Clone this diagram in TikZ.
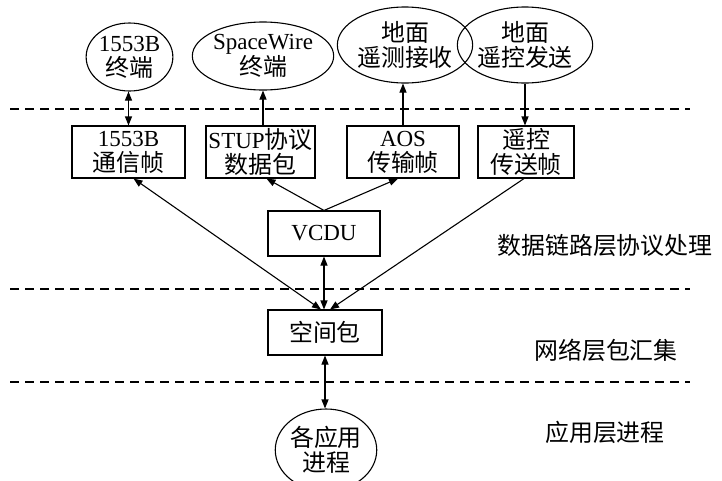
\documentclass[tikz,border=0pt]{standalone}
\usepackage{fontspec}
\setmainfont{Liberation Serif}
\newfontfamily\cjk[Scale=1.04]{Noto Sans CJK SC}
\usetikzlibrary{shapes.geometric,arrows.meta}
\tikzset{
  every node/.style={font=\fontsize{23}{25}\selectfont},
  stepbox/.style={draw, line width=1.1pt, inner sep=0pt, align=center},
  ell/.style={draw, ellipse, line width=1.1pt, inner sep=0pt, align=center},
  conn/.style={line width=1.1pt},
  tip/.style={-{Triangle[length=9pt,width=7pt]}},
  both/.style={{Triangle[length=9pt,width=7pt]}-{Triangle[length=9pt,width=7pt]}},
  sep/.style={line width=1.1pt, dash pattern=on 9pt off 6pt},
  lbl/.style={inner sep=0pt, font=\cjk\fontsize{23}{25}\selectfont}
}
\begin{document}
\begin{tikzpicture}[x=1pt,y=-1pt]
\useasboundingbox (0,0) rectangle (722,480);
% ellipses
\node[ell, minimum width=75pt, minimum height=68pt] (e1553) at (129.5,57) {1553B\\{\cjk 终端}};
\node[ell, minimum width=122pt, minimum height=68pt] (espw) at (263,56) {SpaceWire\\{\cjk 终端}};
\node[ell, minimum width=112pt, minimum height=76pt] (eaos) at (405,45) {{\cjk 地面}\\{\cjk 遥测接收}};
\node[ell, minimum width=112pt, minimum height=76pt] (etc) at (525,45) {{\cjk 地面}\\{\cjk 遥控发送}};
% frame boxes
\node[stepbox, minimum width=113pt, minimum height=52pt] (b1553) at (128.5,152) {1553B\\{\cjk 通信帧}};
\node[stepbox, minimum width=109pt, minimum height=52pt] (bstup) at (260.5,152) {STUP{\cjk 协议}\\{\cjk 数据包}};
\node[stepbox, minimum width=112pt, minimum height=52pt] (baos) at (403,152) {AOS\\{\cjk 传输帧}};
\node[stepbox, minimum width=96pt, minimum height=52pt] (btc) at (526,152) {{\cjk 遥控}\\{\cjk 传送帧}};
\node[stepbox, minimum width=112pt, minimum height=45pt] (vcdu) at (324,233.5) {VCDU};
\node[stepbox, minimum width=114pt, minimum height=45pt] (pkt) at (325,332.5) {{\cjk 空间包}};
\node[ell, minimum width=87pt, minimum height=82pt] (eapp) at (326,450) {{\cjk 各应用}\\{\cjk 进程}};
% layer labels
\node[lbl] (l1) at (605,245) {数据链路层协议处理};
\node[lbl] (l2) at (606,350) {网络层包汇集};
\node[lbl] (l3) at (605,432) {应用层进程};
% dashed separators
\coordinate (d1a) at (10,109); \coordinate (d1b) at (690,109);
\coordinate (d2a) at (10,289); \coordinate (d2b) at (690,289);
\coordinate (d3a) at (10,382); \coordinate (d3b) at (690,382);
\draw[sep] (d1a) -- (d1b);
\draw[sep] (d2a) -- (d2b);
\draw[sep] (d3a) -- (d3b);
% connectors
\draw[conn,both] (b1553.north) -- (b1553.north |- e1553.south);
\draw[conn,tip] (bstup.north -| espw.south) -- (espw.south);
\draw[conn,tip] (baos.north) -- (baos.north |- eaos.south);
\draw[conn,tip] (etc.south) -- (etc.south |- btc.north);
\coordinate (vtop) at (vcdu.north);
\draw[conn,tip] (vtop) -- ([xshift=6pt]bstup.south);
\draw[conn,tip] (vtop) -- ([xshift=-5pt]baos.south);
\coordinate (pin) at (pkt.north);
\draw[conn,both] ([xshift=5pt]b1553.south) -- ([xshift=-4pt]pin);
\draw[conn,tip] ([xshift=-2pt]btc.south) -- ([xshift=5pt]pin);
\draw[conn,both] (vcdu.south) -- (vcdu.south |- pin);
\draw[conn,both] (pkt.south) -- (pkt.south |- eapp.north);
\end{tikzpicture}
\end{document}
